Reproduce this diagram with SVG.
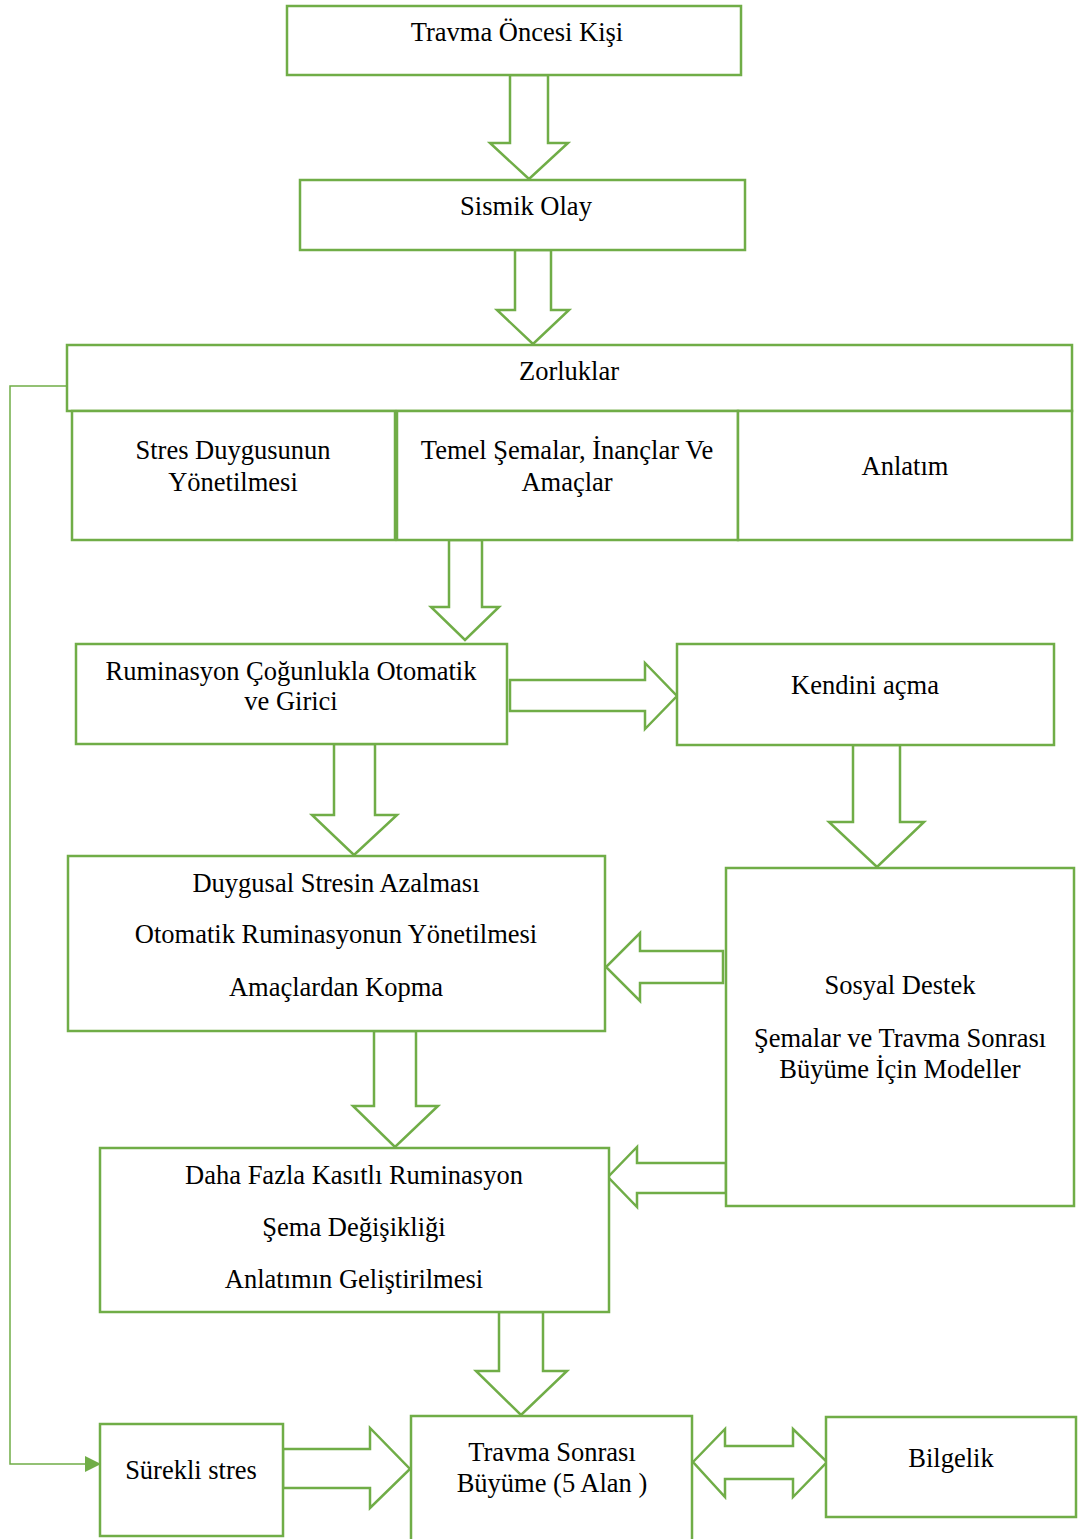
<svg xmlns="http://www.w3.org/2000/svg" width="1084" height="1539" viewBox="0 0 1084 1539">
<defs>
<style>
.box{fill:#fff;stroke:#70AD47;stroke-width:2.5}
.arr{fill:#fff;stroke:#70AD47;stroke-width:2.5;stroke-linejoin:miter}
.ln{fill:none;stroke:#70AD47;stroke-width:1.5}
text{font-family:"Liberation Serif","Times New Roman",serif;font-size:26.5px;fill:#000;text-anchor:middle}
</style>
<marker id="ah" markerWidth="16" markerHeight="16" refX="15" refY="8" orient="auto" markerUnits="userSpaceOnUse">
<path d="M0,0 L16,8 L0,16 Z" fill="#70AD47"/>
</marker>
</defs>
<rect width="1084" height="1539" fill="#fff"/>
<g id="connectors">
<polygon class="arr" points="510,75 548,75 548,143 568,143 529,179 490,143 510,143"/>
<polygon class="arr" points="515,250 551,250 551,310 569,310 533,344 497,310 515,310"/>
<polygon class="arr" points="449,540 482,540 482,607 499,607 465,640 431,607 449,607"/>
<polygon class="arr" points="510,680 645,680 645,663 677,696 645,729 645,711 510,711"/>
<polygon class="arr" points="334,744 375,744 375,815 397,815 354,855 312,815 334,815"/>
<polygon class="arr" points="853,745 900,745 900,822 924,822 877,867 829,822 853,822"/>
<polygon class="arr" points="723,951 640,951 640,933 606,967 640,1001 640,983 723,983"/>
<polygon class="arr" points="726,1163 637,1163 637,1147 608,1177 637,1207 637,1193 726,1193"/>
<polygon class="arr" points="374,1031 416,1031 416,1106 438,1106 395,1147 353,1106 374,1106"/>
<polygon class="arr" points="499,1312 543,1312 543,1371 567,1371 521,1415 476,1371 499,1371"/>
<polygon class="arr" points="283,1449 370,1449 370,1428 410,1469 370,1508 370,1488 283,1488"/>
<polygon class="arr" points="693,1462 725,1429 725,1446 793,1446 793,1429 827,1462 793,1497 793,1479 725,1479 725,1497"/>
<polyline class="ln" points="67,386 10,386 10,1464 100,1464" marker-end="url(#ah)"/>
</g>
<g id="n1"><rect class="box" x="287" y="6" width="454" height="69"/><text x="517" y="41">Travma Öncesi Kişi</text></g>
<g id="n2"><rect class="box" x="300" y="180" width="445" height="70"/><text x="526" y="215">Sismik Olay</text></g>
<g id="n3"><rect class="box" x="67" y="345" width="1005" height="66"/><text x="569" y="380">Zorluklar</text></g>
<g id="n4"><rect class="box" x="72" y="411" width="323" height="129"/><text x="233" y="459">Stres Duygusunun</text><text x="233" y="491">Yönetilmesi</text></g>
<g id="n5"><rect class="box" x="397" y="411" width="341" height="129"/><text x="567" y="459">Temel Şemalar, İnançlar Ve</text><text x="567" y="491">Amaçlar</text></g>
<g id="n6"><rect class="box" x="738" y="411" width="334" height="129"/><text x="905" y="475">Anlatım</text></g>
<g id="n7"><rect class="box" x="76" y="644" width="431" height="100"/><text x="291" y="680">Ruminasyon Çoğunlukla Otomatik</text><text x="291" y="710">ve Girici</text></g>
<g id="n8"><rect class="box" x="677" y="644" width="377" height="101"/><text x="865" y="694">Kendini açma</text></g>
<g id="n9"><rect class="box" x="68" y="856" width="537" height="175"/><text x="336" y="892">Duygusal Stresin Azalması</text><text x="336" y="943">Otomatik Ruminasyonun Yönetilmesi</text><text x="336" y="996">Amaçlardan Kopma</text></g>
<g id="n10"><rect class="box" x="726" y="868" width="348" height="338"/><text x="900" y="994">Sosyal Destek</text><text x="900" y="1047">Şemalar ve Travma Sonrası</text><text x="900" y="1078">Büyüme İçin Modeller</text></g>
<g id="n11"><rect class="box" x="100" y="1148" width="509" height="164"/><text x="354" y="1184">Daha Fazla Kasıtlı Ruminasyon</text><text x="354" y="1236">Şema Değişikliği</text><text x="354" y="1288">Anlatımın Geliştirilmesi</text></g>
<g id="n12"><rect class="box" x="100" y="1424" width="183" height="112"/><text x="191" y="1479">Sürekli stres</text></g>
<g id="n13"><rect class="box" x="411" y="1416" width="281" height="125"/><text x="552" y="1461">Travma Sonrası</text><text x="552" y="1492">Büyüme (5 Alan )</text></g>
<g id="n14"><rect class="box" x="826" y="1417" width="250" height="100"/><text x="951" y="1467">Bilgelik</text></g>
</svg>
